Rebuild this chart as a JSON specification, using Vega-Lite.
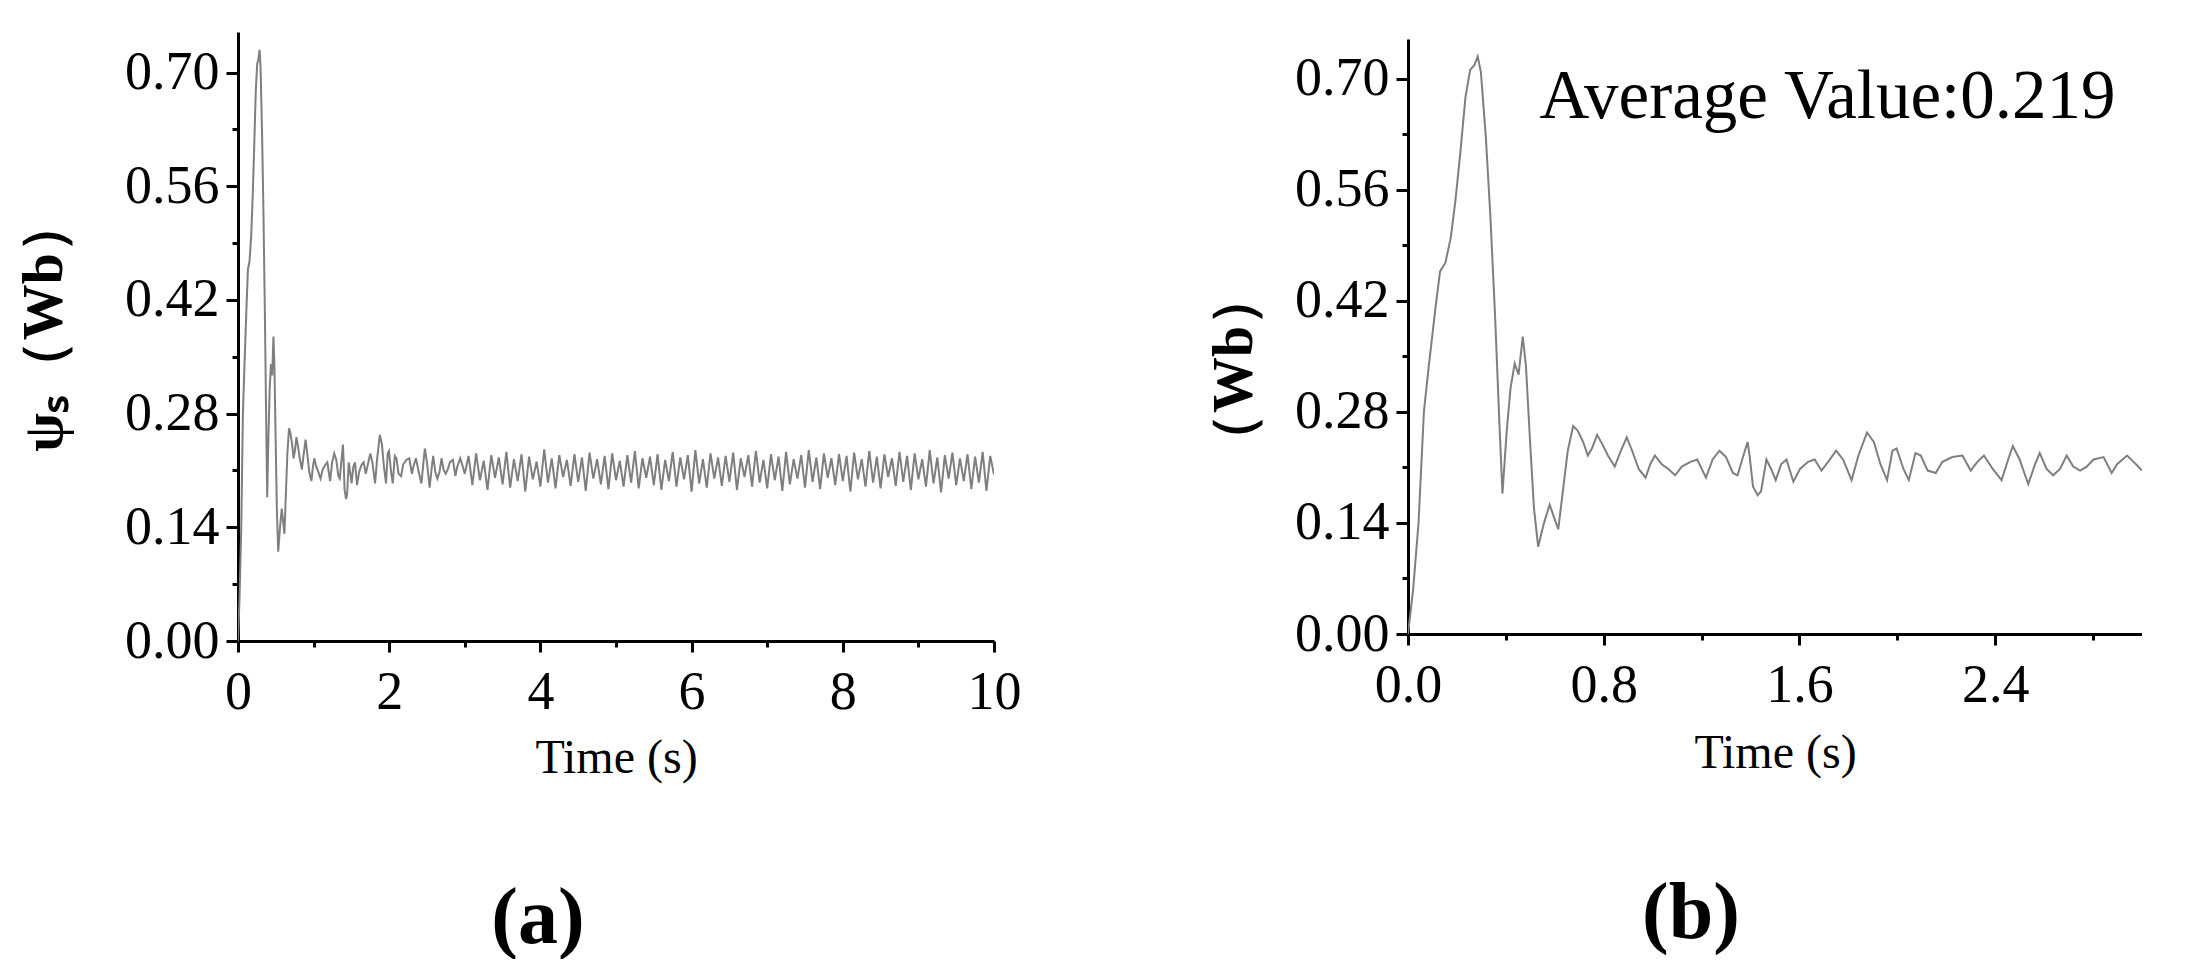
{
  "$schema": "https://vega.github.io/schema/vega-lite/v6.json",
  "background": "white",
  "padding": {"left": 16, "top": 32, "right": 0, "bottom": 0},
  "spacing": 414,
  "bounds": "flush",
  "center": true,
  "config": {
    "view": {"stroke": null},
    "axis": {
      "domainColor": "black", "domainWidth": 3, "tickColor": "black", "tickWidth": 3,
      "labelColor": "black", "titleColor": "black", "grid": false,
      "labelFont": "Liberation Serif", "labelFontSize": 54, "labelFlush": false,
      "labelOverlap": false, "labelBound": false,
      "titleFont": "Liberation Serif"
    }
  },
  "datasets": {
    "flux": [
      {"t":0,"v":0},{"t":0.021,"v":0.056},{"t":0.043,"v":0.14},{"t":0.065,"v":0.28},{"t":0.085,"v":0.338},
      {"t":0.112,"v":0.41},{"t":0.131,"v":0.457},{"t":0.153,"v":0.468},{"t":0.175,"v":0.5},{"t":0.194,"v":0.547},
      {"t":0.213,"v":0.604},{"t":0.235,"v":0.677},{"t":0.254,"v":0.711},{"t":0.271,"v":0.717},{"t":0.285,"v":0.728},
      {"t":0.298,"v":0.708},{"t":0.318,"v":0.627},{"t":0.337,"v":0.525},{"t":0.356,"v":0.4},{"t":0.373,"v":0.27},
      {"t":0.386,"v":0.177},{"t":0.403,"v":0.254},{"t":0.419,"v":0.31},{"t":0.436,"v":0.341},{"t":0.452,"v":0.327},
      {"t":0.469,"v":0.375},{"t":0.482,"v":0.338},{"t":0.499,"v":0.242},{"t":0.515,"v":0.158},{"t":0.532,"v":0.11},
      {"t":0.554,"v":0.138},{"t":0.579,"v":0.163},{"t":0.598,"v":0.146},{"t":0.614,"v":0.132},{"t":0.631,"v":0.175},
      {"t":0.653,"v":0.231},{"t":0.675,"v":0.262},{"t":0.694,"v":0.256},{"t":0.716,"v":0.242},{"t":0.735,"v":0.225},
      {"t":0.752,"v":0.234},{"t":0.773,"v":0.251},{"t":0.793,"v":0.24},{"t":0.817,"v":0.225},{"t":0.845,"v":0.211},
      {"t":0.866,"v":0.228},{"t":0.894,"v":0.248},{"t":0.916,"v":0.231},{"t":0.943,"v":0.208},{"t":0.971,"v":0.197},
      {"t":0.99,"v":0.214},{"t":1.009,"v":0.225},{"t":1.037,"v":0.214},{"t":1.064,"v":0.208},{"t":1.092,"v":0.2},
      {"t":1.119,"v":0.211},{"t":1.155,"v":0.217},{"t":1.182,"v":0.22},{"t":1.218,"v":0.197},{"t":1.245,"v":0.22},
      {"t":1.273,"v":0.231},{"t":1.3,"v":0.223},{"t":1.328,"v":0.203},{"t":1.347,"v":0.2},{"t":1.366,"v":0.22},
      {"t":1.388,"v":0.242},{"t":1.396,"v":0.225},{"t":1.41,"v":0.186},{"t":1.429,"v":0.175},{"t":1.443,"v":0.18},
      {"t":1.465,"v":0.22},{"t":1.484,"v":0.208},{"t":1.503,"v":0.194},{"t":1.525,"v":0.214},{"t":1.547,"v":0.22},
      {"t":1.575,"v":0.192},{"t":1.602,"v":0.208},{"t":1.635,"v":0.217},{"t":1.662,"v":0.22},{"t":1.69,"v":0.206},
      {"t":1.717,"v":0.217},{"t":1.75,"v":0.231},{"t":1.778,"v":0.22},{"t":1.813,"v":0.194},{"t":1.841,"v":0.225},
      {"t":1.876,"v":0.254},{"t":1.904,"v":0.242},{"t":1.931,"v":0.214},{"t":1.958,"v":0.194},{"t":1.98,"v":0.231},
      {"t":1.997,"v":0.234},{"t":2.025,"v":0.208},{"t":2.047,"v":0.194},{"t":2.074,"v":0.228},{"t":2.096,"v":0.225},
      {"t":2.124,"v":0.206},{"t":2.157,"v":0.203},{"t":2.184,"v":0.217},{"t":2.225,"v":0.223},{"t":2.266,"v":0.225},
      {"t":2.3,"v":0.206},{"t":2.327,"v":0.217},{"t":2.354,"v":0.225},{"t":2.39,"v":0.208},{"t":2.426,"v":0.194},
      {"t":2.453,"v":0.22},{"t":2.472,"v":0.237},{"t":2.5,"v":0.22},{"t":2.519,"v":0.203},{"t":2.535,"v":0.189},
      {"t":2.563,"v":0.214},{"t":2.582,"v":0.228},{"t":2.61,"v":0.208},{"t":2.637,"v":0.2},{"t":2.665,"v":0.208},
      {"t":2.692,"v":0.225},{"t":2.719,"v":0.211},{"t":2.747,"v":0.206},{"t":2.774,"v":0.211},{"t":2.802,"v":0.22},
      {"t":2.843,"v":0.223},{"t":2.876,"v":0.203},{"t":2.898,"v":0.214},{"t":2.939,"v":0.225},{"t":2.966,"v":0.217},
      {"t":3.0,"v":0.206},
      {"t":3.05,"v":0.228},{"t":3.1,"v":0.192},{"t":3.15,"v":0.231},{"t":3.2,"v":0.198},{"t":3.25,"v":0.222},
      {"t":3.3,"v":0.186},{"t":3.35,"v":0.229},{"t":3.4,"v":0.201},{"t":3.45,"v":0.226},{"t":3.5,"v":0.193},
      {"t":3.55,"v":0.233},{"t":3.6,"v":0.189},{"t":3.65,"v":0.224},{"t":3.7,"v":0.197},{"t":3.75,"v":0.23},
      {"t":3.8,"v":0.184},{"t":3.85,"v":0.227},{"t":3.9,"v":0.199},{"t":3.95,"v":0.221},{"t":4.0,"v":0.19},
      {"t":4.05,"v":0.236},{"t":4.1,"v":0.195},{"t":4.15,"v":0.225},{"t":4.2,"v":0.188},{"t":4.25,"v":0.229},
      {"t":4.3,"v":0.202},{"t":4.35,"v":0.223},{"t":4.4,"v":0.191},{"t":4.45,"v":0.23},{"t":4.5,"v":0.196},
      {"t":4.55,"v":0.226},{"t":4.6,"v":0.185},{"t":4.65,"v":0.232},{"t":4.7,"v":0.2},{"t":4.75,"v":0.224},
      {"t":4.8,"v":0.193},{"t":4.85,"v":0.228},{"t":4.9,"v":0.187},{"t":4.95,"v":0.231},{"t":5.0,"v":0.198},
      {"t":5.05,"v":0.222},{"t":5.1,"v":0.19},{"t":5.15,"v":0.229},{"t":5.2,"v":0.195},{"t":5.25,"v":0.234},
      {"t":5.3,"v":0.188},{"t":5.35,"v":0.225},{"t":5.4,"v":0.201},{"t":5.45,"v":0.227},{"t":5.5,"v":0.192},
      {"t":5.55,"v":0.23},{"t":5.6,"v":0.186},{"t":5.65,"v":0.223},{"t":5.7,"v":0.197},{"t":5.75,"v":0.233},
      {"t":5.8,"v":0.19},{"t":5.85,"v":0.226},{"t":5.9,"v":0.199},{"t":5.95,"v":0.229},{"t":6.0,"v":0.184},
      {"t":6.05,"v":0.235},{"t":6.1,"v":0.194},{"t":6.15,"v":0.224},{"t":6.2,"v":0.189},{"t":6.25,"v":0.231},
      {"t":6.3,"v":0.2},{"t":6.35,"v":0.226},{"t":6.4,"v":0.191},{"t":6.45,"v":0.228},{"t":6.5,"v":0.196},
      {"t":6.55,"v":0.232},{"t":6.6,"v":0.186},{"t":6.65,"v":0.225},{"t":6.7,"v":0.202},{"t":6.75,"v":0.229},
      {"t":6.8,"v":0.19},{"t":6.85,"v":0.234},{"t":6.9,"v":0.195},{"t":6.95,"v":0.223},{"t":7.0,"v":0.188},
      {"t":7.05,"v":0.23},{"t":7.1,"v":0.198},{"t":7.15,"v":0.227},{"t":7.2,"v":0.185},{"t":7.25,"v":0.233},
      {"t":7.3,"v":0.193},{"t":7.35,"v":0.224},{"t":7.4,"v":0.2},{"t":7.45,"v":0.229},{"t":7.5,"v":0.189},
      {"t":7.55,"v":0.235},{"t":7.6,"v":0.196},{"t":7.65,"v":0.226},{"t":7.7,"v":0.187},{"t":7.75,"v":0.231},
      {"t":7.8,"v":0.201},{"t":7.85,"v":0.225},{"t":7.9,"v":0.192},{"t":7.95,"v":0.23},{"t":8.0,"v":0.197},
      {"t":8.05,"v":0.228},{"t":8.1,"v":0.184},{"t":8.15,"v":0.232},{"t":8.2,"v":0.199},{"t":8.25,"v":0.224},
      {"t":8.3,"v":0.19},{"t":8.35,"v":0.234},{"t":8.4,"v":0.195},{"t":8.45,"v":0.227},{"t":8.5,"v":0.188},
      {"t":8.55,"v":0.23},{"t":8.6,"v":0.202},{"t":8.65,"v":0.225},{"t":8.7,"v":0.191},{"t":8.75,"v":0.233},
      {"t":8.8,"v":0.196},{"t":8.85,"v":0.228},{"t":8.9,"v":0.186},{"t":8.95,"v":0.231},{"t":9.0,"v":0.199},
      {"t":9.05,"v":0.224},{"t":9.1,"v":0.19},{"t":9.15,"v":0.235},{"t":9.2,"v":0.194},{"t":9.25,"v":0.226},
      {"t":9.3,"v":0.183},{"t":9.35,"v":0.229},{"t":9.4,"v":0.2},{"t":9.45,"v":0.232},{"t":9.5,"v":0.192},
      {"t":9.55,"v":0.225},{"t":9.6,"v":0.197},{"t":9.65,"v":0.23},{"t":9.7,"v":0.187},{"t":9.75,"v":0.227},
      {"t":9.8,"v":0.195},{"t":9.85,"v":0.233},{"t":9.9,"v":0.185},{"t":9.95,"v":0.228},{"t":10.0,"v":0.205}
    ]
  },
  "hconcat": [
    {
      "width": 756,
      "height": 609,
      "title": {"text": "(a)", "orient": "bottom", "anchor": "middle", "font": "Liberation Serif", "fontSize": 80, "fontWeight": "bold", "color": "black", "offset": 98, "dx": -78},
      "data": {"name": "flux"},
      "mark": {"type": "line", "color": "#7f7f7f", "strokeWidth": 2, "clip": true},
      "encoding": {
        "x": {
          "field": "t", "type": "quantitative",
          "scale": {"domain": [0, 10], "nice": false, "zero": false},
          "axis": {
            "title": "Time (s)", "titleFontSize": 48, "titleFontWeight": "normal", "titlePadding": 15,
            "values": [0,1,2,3,4,5,6,7,8,9,10],
            "labelExpr": "datum.value % 2 == 0 ? format(datum.value, 'd') : ''",
            "tickSize": {"condition": {"test": "datum.value % 2 == 0", "value": 11}, "value": 6},
            "labelPadding": 13
          }
        },
        "y": {
          "field": "v", "type": "quantitative",
          "scale": {"domain": [0, 0.75], "nice": false, "zero": false},
          "axis": {
            "title": "ψₛ（Wb）", "titleFontSize": 56, "titleFontWeight": "bold", "titlePadding": 55,
            "titleY": 292,
            "values": [0,0.07,0.14,0.21,0.28,0.35,0.42,0.49,0.56,0.63,0.70],
            "labelExpr": "round(datum.value*100) % 14 == 0 ? format(datum.value, '.2f') : ''",
            "tickSize": {"condition": {"test": "round(datum.value*100) % 14 == 0", "value": 12}, "value": 6},
            "labelPadding": 7, "minExtent": 110, "maxExtent": 110
          }
        }
      }
    },
    {
      "width": 734,
      "height": 595,
      "title": {"text": "(b)", "orient": "bottom", "anchor": "middle", "font": "Liberation Serif", "fontSize": 80, "fontWeight": "bold", "color": "black", "offset": 98, "dx": -84},
      "layer": [
        {
          "data": {"name": "flux"},
          "transform": [{"filter": "datum.t <= 3.0"}],
          "mark": {"type": "line", "color": "#7f7f7f", "strokeWidth": 2, "clip": true},
          "encoding": {
            "x": {
              "field": "t", "type": "quantitative",
              "scale": {"domain": [0, 3.0], "nice": false, "zero": false},
              "axis": {
                "title": "Time (s)", "titleFontSize": 48, "titleFontWeight": "normal", "titlePadding": 17,
                "values": [0,0.4,0.8,1.2,1.6,2.0,2.4,2.8],
                "labelExpr": "round(datum.value*10) % 8 == 0 ? format(datum.value, '.1f') : ''",
                "tickSize": {"condition": {"test": "round(datum.value*10) % 8 == 0", "value": 11}, "value": 6},
                "labelPadding": 13
              }
            },
            "y": {
              "field": "v", "type": "quantitative",
              "scale": {"domain": [0, 0.75], "nice": false, "zero": false},
              "axis": {
                "title": "（Wb）", "titleFontSize": 56, "titleFontWeight": "bold", "titlePadding": 35,
                "titleY": 330,
                "values": [0,0.07,0.14,0.21,0.28,0.35,0.42,0.49,0.56,0.63,0.70],
                "labelExpr": "round(datum.value*100) % 14 == 0 ? format(datum.value, '.2f') : ''",
                "tickSize": {"condition": {"test": "round(datum.value*100) % 14 == 0", "value": 12}, "value": 6},
                "labelPadding": 7, "minExtent": 110, "maxExtent": 110
              }
            }
          }
        },
        {
          "data": {"values": [{"label": "Average Value:0.219"}]},
          "mark": {"type": "text", "align": "left", "baseline": "alphabetic", "font": "Liberation Serif", "fontSize": 69, "color": "black"},
          "encoding": {
            "x": {"datum": 0.537, "type": "quantitative"},
            "y": {"datum": 0.65, "type": "quantitative"},
            "text": {"field": "label"}
          }
        }
      ]
    }
  ]
}
